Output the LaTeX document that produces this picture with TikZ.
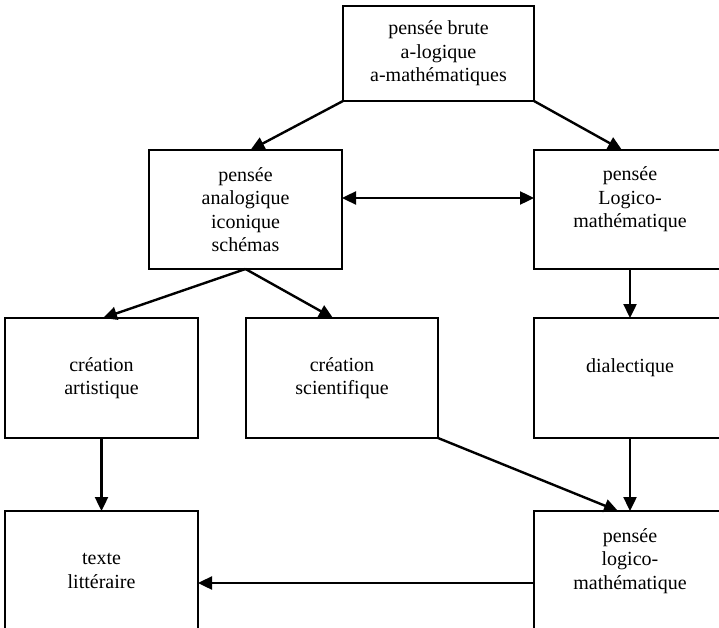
\documentclass[tikz,border=0pt]{standalone}
\usepackage{fontspec}
\setmainfont{Liberation Serif}
\usetikzlibrary{arrows.meta}
\tikzset{
  box/.style={draw=black, line width=2pt, rectangle, inner sep=0pt, outer sep=0pt},
  txt/.style={align=center, inner sep=0pt, font=\fontsize{20}{23.5}\selectfont},
  arr/.style={line width=2.4pt, -{Triangle[length=14pt,width=13pt]}},
  darr/.style={line width=2.4pt, {Triangle[length=14pt,width=13pt]}-{Triangle[length=14pt,width=13pt]}}
}
\begin{document}
\begin{tikzpicture}[x=1pt,y=-1pt]
\useasboundingbox (0,0) rectangle (719,628);
\fill[white] (0,0) rectangle (719,628);
\clip (0,0) rectangle (719,628);
% boxes
\node[box, minimum width=191pt, minimum height=95pt] (top) at (438.5,53.5) {};
\node[box, minimum width=193pt, minimum height=119pt] (lm) at (245.5,209.5) {};
\node[box, minimum width=192pt, minimum height=119pt] (rm) at (630,209.5) {};
\node[box, minimum width=193pt, minimum height=120pt] (ca) at (101.5,378) {};
\node[box, minimum width=192pt, minimum height=120pt] (cs) at (342,378) {};
\node[box, minimum width=192pt, minimum height=120pt] (dia) at (630,378) {};
\node[box, minimum width=193pt, minimum height=120pt] (tl) at (101.5,571) {};
\node[box, minimum width=192pt, minimum height=120pt] (plm) at (630,571) {};
% texts
\node[txt] (ttop) at (top.center) {pensée brute\\a-logique\\a-mathématiques};
\node[txt] (tlm) at (lm.center) {pensée\\analogique\\iconique\\schémas};
\node[txt] (trm) at ([yshift=10pt]rm.center) {pensée\\Logico-\\mathématique};
\node[txt] (tca) at (ca.center) {création\\artistique};
\node[txt] (tcs) at (cs.center) {création\\scientifique};
\node[txt] (tdia) at ([yshift=10pt]dia.center) {dialectique};
\node[txt] (ttl) at (tl.center) {texte\\littéraire};
\node[txt] (tplm) at ([yshift=10pt]plm.center) {pensée\\logico-\\mathématique};
% connectors
\draw[arr] (top.south west) -- ([xshift=5pt]lm.north);
\draw[arr] (top.south east) -- ([xshift=-8pt]rm.north);
\draw[darr] ([yshift=11.5pt]lm.east) -- ([yshift=11.5pt]rm.west);
\draw[arr] (lm.south) -- ([xshift=1.5pt]ca.north);
\draw[arr] (lm.south) -- ([xshift=-9pt]cs.north);
\draw[arr] (rm.south) -- (dia.north);
\draw[arr] (ca.south) -- (tl.north);
\draw[arr] (dia.south) -- (plm.north);
\draw[arr] (cs.south east) -- ([xshift=-12pt]plm.north);
\draw[arr] ([yshift=-12pt]plm.west) -- ([yshift=-12pt]tl.east);
\end{tikzpicture}
\end{document}
